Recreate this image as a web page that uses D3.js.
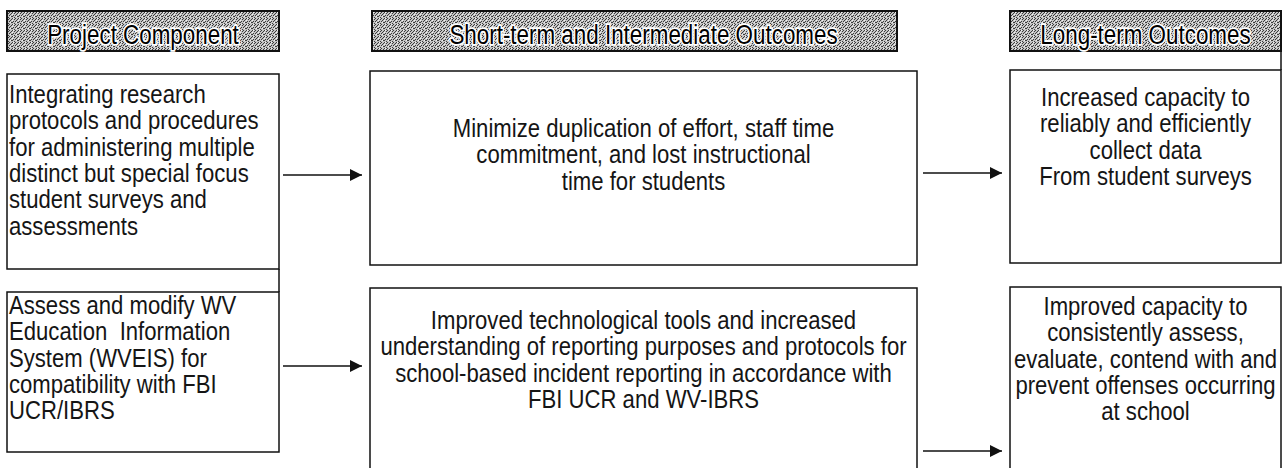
<!DOCTYPE html>
<html>
<head>
<meta charset="utf-8">
<script src="https://cdn.jsdelivr.net/npm/d3@7"></script>
<style>
  html, body { margin: 0; padding: 0; background: #fff; }
  svg { display: block; }
  text { font-family: "Liberation Sans", Arial, sans-serif; fill: #151515; white-space: pre; }
</style>
</head>
<body>
<svg id="viz"></svg>
<script>
const width = 1284;
const height = 468;
const svg = d3.select("#viz").attr("width", width).attr("height", height);

// column headers
const headers = ["Project Component", "Short-term and Intermediate Outcomes", "Long-term Outcomes"];

// text of each row, per column
const components = [
  ["Integrating research", "protocols and procedures", "for administering multiple",
   "distinct but special focus", "student surveys and", "assessments"],
  ["Assess and modify WV", "Education  Information", "System (WVEIS) for",
   "compatibility with FBI", "UCR/IBRS"]
];
const shortTerm = [
  ["Minimize duplication of effort, staff time", "commitment, and lost instructional", "time for students"],
  ["Improved technological tools and increased", "understanding of reporting purposes and protocols for",
   "school-based incident reporting in accordance with", "FBI UCR and WV-IBRS"]
];
const longTerm = [
  ["Increased capacity to", "reliably and efficiently", "collect data", "From student surveys"],
  ["Improved capacity to", "consistently assess,", "evaluate, contend with and",
   "prevent offenses occurring", "at school"]
];

// layout
const cols = [
  {x0: 7, x1: 279, anchor: "start", pad: 2},
  {x0: 370, x1: 917, anchor: "middle", pad: 0},
  {x0: 1010, x1: 1281, anchor: "middle", pad: 0}
];
const headerY = [11, 51];
const headerX = [[7, 279], [372, 897], [1010, 1281]];
const boxes = [
  [{y0: 74, y1: 269, first: 103}, {y0: 292, y1: 452, first: 314}],
  [{y0: 71, y1: 265, first: 137}, {y0: 288, y1: 480, first: 329}],
  [{y0: 70, y1: 263, first: 106}, {y0: 287, y1: 480, first: 315}]
];
const arrows = [
  {x0: 283, x1: 362, y: 175}, {x0: 283, x1: 362, y: 366},
  {x0: 923, x1: 1002, y: 173}, {x0: 923, x1: 1002, y: 451}
];
const lineH = 26.3;
const fontSize = 25;
const sx = 0.885;

// stippled header fill
const defs = svg.append("defs");
const pat = defs.append("pattern").attr("id", "stipple")
  .attr("width", 6).attr("height", 6).attr("patternUnits", "userSpaceOnUse");
pat.append("rect").attr("width", 6).attr("height", 6).attr("fill", "#c4c4c4");
[[0, 0], [3, 0], [2, 1], [5, 1], [4, 2], [1, 3], [3, 3], [0, 4], [5, 4], [2, 5]].forEach(([x, y]) =>
  pat.append("rect").attr("x", x).attr("y", y).attr("width", 1).attr("height", 1).attr("fill", "#3c3c3c"));
[[1, 0], [4, 4], [0, 2]].forEach(([x, y]) =>
  pat.append("rect").attr("x", x).attr("y", y).attr("width", 1).attr("height", 1).attr("fill", "#f2f2f2"));

svg.selectAll("rect.header").data(headers).join("rect")
  .attr("class", "header")
  .attr("x", (d, i) => headerX[i][0])
  .attr("y", headerY[0])
  .attr("width", (d, i) => headerX[i][1] - headerX[i][0])
  .attr("height", headerY[1] - headerY[0])
  .attr("fill", "url(#stipple)")
  .attr("stroke", "#111").attr("stroke-width", 2);

svg.selectAll("text.header").data(headers).join("text")
  .attr("class", "header")
  .attr("transform", (d, i) => `translate(${(cols[i].x0 + cols[i].x1) / 2},${headerY[1] - 7}) scale(0.8,1)`)
  .attr("text-anchor", "middle")
  .attr("font-size", 28)
  .attr("stroke", "#fff").attr("stroke-width", 3.5).attr("paint-order", "stroke")
  .style("fill", "#000")
  .text(d => d);

// boxes
const columns = [components, shortTerm, longTerm];
columns.forEach((rows, ci) => {
  const col = cols[ci];
  const g = svg.append("g");
  rows.forEach((lines, ri) => {
    const b = boxes[ci][ri];
    g.append("rect")
      .attr("x", col.x0).attr("y", b.y0)
      .attr("width", col.x1 - col.x0).attr("height", b.y1 - b.y0)
      .attr("fill", "none").attr("stroke", "#111").attr("stroke-width", 1.5);
    const tx = col.anchor === "start" ? col.x0 + col.pad : (col.x0 + col.x1) / 2;
    g.selectAll(null).data(lines).join("text")
      .attr("transform", (d, li) => `translate(${tx},${b.first + li * lineH}) scale(${sx},1)`)
      .attr("text-anchor", col.anchor)
      .attr("font-size", fontSize)
      .text(d => d);
  });
});

// connecting edges between stacked boxes
svg.append("line").attr("x1", 279).attr("x2", 279).attr("y1", 269).attr("y2", 292)
  .attr("stroke", "#111").attr("stroke-width", 1.5);
svg.append("line").attr("x1", 1281).attr("x2", 1281).attr("y1", 51).attr("y2", 70)
  .attr("stroke", "#111").attr("stroke-width", 1.5);

// arrows
defs.append("marker").attr("id", "head")
  .attr("viewBox", "0 0 10 10").attr("refX", 10).attr("refY", 5)
  .attr("markerWidth", 15).attr("markerHeight", 12).attr("markerUnits", "userSpaceOnUse")
  .attr("orient", "auto")
  .append("path").attr("d", "M0,0 L10,5 L0,10 Z").attr("fill", "#111");

svg.selectAll("line.arrow").data(arrows).join("line")
  .attr("class", "arrow")
  .attr("x1", d => d.x0).attr("x2", d => d.x1)
  .attr("y1", d => d.y).attr("y2", d => d.y)
  .attr("stroke", "#111").attr("stroke-width", 1.5)
  .attr("marker-end", "url(#head)");
</script>
</body>
</html>
